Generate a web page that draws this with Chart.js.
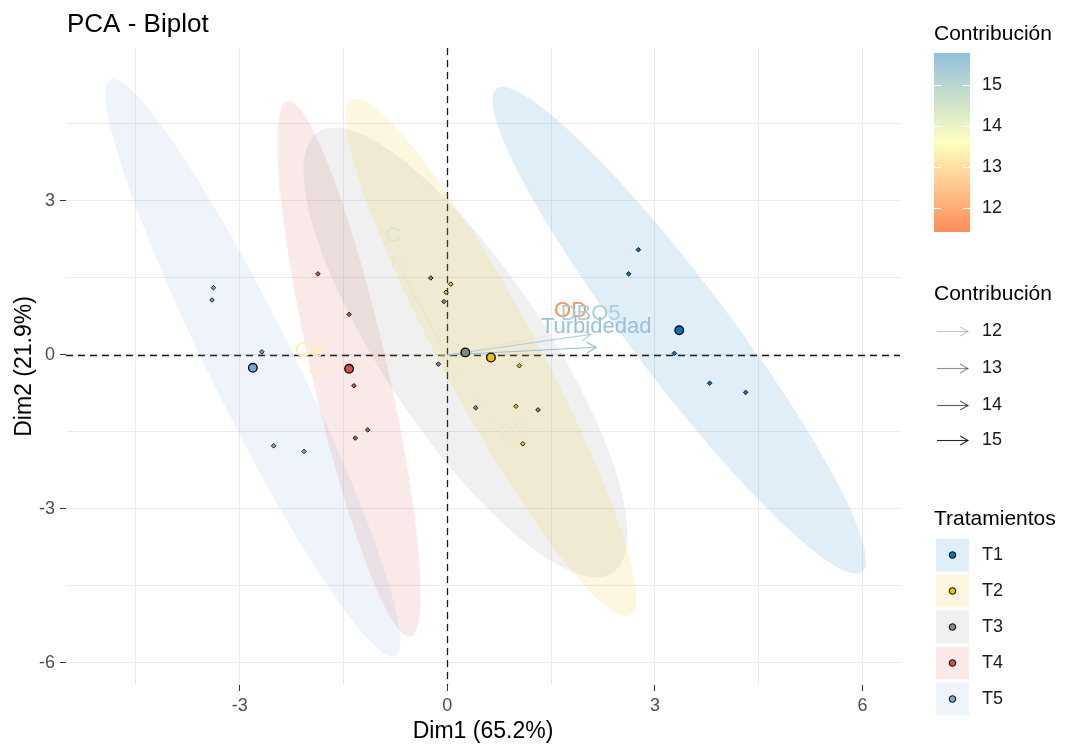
<!DOCTYPE html>
<html>
<head>
<meta charset="utf-8">
<title>PCA - Biplot</title>
<script src="https://cdn.jsdelivr.net/npm/chart.js@4.4.1/dist/chart.umd.min.js"></script>
<style>
  html, body { margin: 0; padding: 0; background: #fff; }
  #wrap { width: 1076px; height: 744px; }
</style>
</head>
<body>
<div id="wrap"><canvas id="biplot" width="1076" height="744"></canvas></div>
<script>
// treatments
const groups = ['T1', 'T2', 'T3', 'T4', 'T5'];
const groupColors = ['#0073C2', '#EFC000', '#868686', '#CD534C', '#7AA6DC'];

// individuals (Dim1, Dim2)
const indT1x = [2.76, 2.62, 3.28, 3.79, 4.31];
const indT1y = [2.05, 1.58, 0.03, -0.55, -0.73];
const indT2x = [0.05, -0.02, 1.04, 0.99, 1.09];
const indT2y = [1.38, 1.22, -0.21, -1.00, -1.73];
const indT3x = [-0.24, -0.05, -0.13, 0.41, 1.31];
const indT3y = [1.50, 1.04, -0.18, -1.03, -1.07];
const indT4x = [-1.87, -1.42, -1.35, -1.15, -1.33];
const indT4y = [1.58, 0.79, -0.60, -1.46, -1.62];
const indT5x = [-3.38, -3.40, -2.68, -2.51, -2.07];
const indT5y = [1.31, 1.07, 0.06, -1.77, -1.88];
const indX = [indT1x, indT2x, indT3x, indT4x, indT5x];
const indY = [indT1y, indT2y, indT3y, indT4y, indT5y];

// group means
const meanX = [3.35, 0.63, 0.26, -1.42, -2.81];
const meanY = [0.48, -0.05, 0.05, -0.27, -0.25];

// concentration ellipses: topmost point + half width of the horizontal chord through the mean
const ellTopX = [0.80, -1.32, -1.63, -2.29, -4.83];
const ellTopY = [5.22, 4.99, 4.43, 4.95, 5.38];
const ellHalfW = [0.88, 0.78, 1.38, 0.56, 0.68];

// variables
const varNames = ['C', 'Ce', 'OD', 'DBO5', 'Turbidedad', 'pH'];
const varX = [-0.78, -2.00, 1.78, 2.07, 2.15, 0.97];
const varY = [1.92, -0.32, 0.46, 0.40, 0.15, -1.84];
const varContrib = [14.4, 13.3, 11.41, 15.3, 15.78, 14.2];

// ticks
const xGrid = [-4.5, -3, -1.5, 0, 1.5, 3, 4.5, 6];
const yGrid = [-6, -4.5, -3, -1.5, 0, 1.5, 3, 4.5];
const contribTicks = [12, 13, 14, 15];

const fontFam = '"Liberation Sans", Arial, sans-serif';
const cMin = Math.min(...varContrib), cMax = Math.max(...varContrib);
const stops = [[cMin, [252, 141, 89]], [13.6, [255, 255, 191]], [cMax, [145, 191, 219]]];

function contribRGB(c) {
  for (let i = 0; i < stops.length - 1; i++) {
    const [v0, c0] = stops[i], [v1, c1] = stops[i + 1];
    if (c <= v1 || i === stops.length - 2) {
      const f = Math.max(0, Math.min(1, (c - v0) / (v1 - v0)));
      return c0.map((k, j) => Math.round(k + (c1[j] - k) * f));
    }
  }
}
function contribAlpha(c) { return 0.1 + 0.9 * (c - cMin) / (cMax - cMin); }
function rgba(rgb, a) { return 'rgba(' + rgb.join(',') + ',' + a + ')'; }
function hexA(hex, a) {
  const n = parseInt(hex.slice(1), 16);
  return rgba([(n >> 16) & 255, (n >> 8) & 255, n & 255], a);
}

function ellipsePoints(i) {
  const cx = meanX[i], cy = meanY[i];
  const ax = ellTopX[i] - cx, ay = ellTopY[i] - cy, bx = ellHalfW[i];
  const pts = [];
  for (let k = 0; k <= 120; k++) {
    const t = k / 120 * 2 * Math.PI;
    pts.push({x: cx + ax * Math.cos(t) + bx * Math.sin(t), y: cy + ay * Math.cos(t)});
  }
  return pts;
}

const datasets = [];
groups.forEach((g, i) => {
  datasets.push({
    type: 'line', label: g + ' ellipse', data: ellipsePoints(i), order: 10,
    fill: 'shape', backgroundColor: hexA(groupColors[i], 0.12),
    borderColor: 'transparent', borderWidth: 0, pointRadius: 0, tension: 0
  });
});
groups.forEach((g, i) => {
  datasets.push({
    label: g, data: indX[i].map((v, k) => ({x: v, y: indY[i][k]})), order: 8,
    pointStyle: 'rectRot', pointRadius: 2.3, backgroundColor: groupColors[i],
    borderColor: '#1a1a1a', borderWidth: 1
  });
});
varNames.forEach((n, i) => {
  datasets.push({
    type: 'line', label: n, data: [{x: 0, y: 0}, {x: varX[i], y: varY[i]}], order: 6,
    borderColor: rgba(contribRGB(varContrib[i]), contribAlpha(varContrib[i])),
    borderWidth: 1.1, pointRadius: 0, fill: false
  });
});
datasets.push({
  label: 'means', data: meanX.map((v, i) => ({x: v, y: meanY[i]})), order: 4,
  pointRadius: 4.3, backgroundColor: groupColors, borderColor: '#000', borderWidth: 1.3
});

function arrowHead(ctx, x1, y1, x2, y2, len) {
  const ang = Math.atan2(y2 - y1, x2 - x1);
  ctx.beginPath();
  ctx.moveTo(x2 - len * Math.cos(ang - Math.PI / 6), y2 - len * Math.sin(ang - Math.PI / 6));
  ctx.lineTo(x2, y2);
  ctx.lineTo(x2 - len * Math.cos(ang + Math.PI / 6), y2 - len * Math.sin(ang + Math.PI / 6));
  ctx.stroke();
}

const biplotDecor = {
  id: 'biplotDecor',
  beforeDatasetsDraw(chart) {
    const {ctx, chartArea: a, scales: {x, y}} = chart;
    const x0 = Math.round(x.getPixelForValue(0)) + 0.5;
    const y0 = Math.round(y.getPixelForValue(0)) + 0.5;
    ctx.save();
    ctx.strokeStyle = '#1a1a1a';
    ctx.lineWidth = 1.3;
    ctx.setLineDash([7, 5]);
    ctx.beginPath();
    ctx.moveTo(a.left, y0); ctx.lineTo(a.right, y0);
    ctx.moveTo(x0, a.top); ctx.lineTo(x0, a.bottom);
    ctx.stroke();
    ctx.restore();
  },
  afterDatasetsDraw(chart) {
    const {ctx, scales: {x, y}} = chart;
    const px0 = x.getPixelForValue(0), py0 = y.getPixelForValue(0);
    ctx.save();
    ctx.lineWidth = 1.1;
    ctx.font = '22px ' + fontFam;
    ctx.textAlign = 'center';
    ctx.textBaseline = 'alphabetic';
    varNames.forEach((n, i) => {
      const px = x.getPixelForValue(varX[i]), py = y.getPixelForValue(varY[i]);
      const rgb = contribRGB(varContrib[i]);
      ctx.strokeStyle = rgba(rgb, contribAlpha(varContrib[i]));
      arrowHead(ctx, px0, py0, px, py, 11);
      ctx.fillStyle = rgba(rgb, 0.95);
      ctx.fillText(n, px, py - 14);
    });
    ctx.restore();
  },
  afterDraw(chart) {
    const {ctx, chartArea: a} = chart;
    ctx.save();
    ctx.fillStyle = '#000';
    ctx.textBaseline = 'alphabetic';
    // title
    ctx.font = '26px ' + fontFam;
    ctx.textAlign = 'left';
    ctx.fillText('PCA - Biplot', 67, 32);
    // axis titles
    ctx.font = '23px ' + fontFam;
    ctx.textAlign = 'center';
    ctx.fillText('Dim1 (65.2%)', (a.left + a.right) / 2, 738);
    ctx.save();
    ctx.translate(31, (a.top + a.bottom) / 2);
    ctx.rotate(-Math.PI / 2);
    ctx.fillText('Dim2 (21.9%)', 0, 0);
    ctx.restore();

    // colour bar legend
    const lx = 934, bw = 36, bTop = 53, bBot = 232;
    ctx.textAlign = 'left';
    ctx.font = '21px ' + fontFam;
    ctx.fillStyle = '#000';
    ctx.fillText('Contribución', lx, 40);
    const grad = ctx.createLinearGradient(0, bBot, 0, bTop);
    stops.forEach(([v, c]) => grad.addColorStop((v - cMin) / (cMax - cMin), rgba(c, 1)));
    ctx.fillStyle = grad;
    ctx.fillRect(lx, bTop, bw, bBot - bTop);
    ctx.font = '18px ' + fontFam;
    ctx.textBaseline = 'middle';
    contribTicks.forEach(v => {
      const ty = Math.round(bBot - (v - cMin) / (cMax - cMin) * (bBot - bTop)) + 0.5;
      ctx.strokeStyle = '#fff';
      ctx.lineWidth = 1;
      ctx.beginPath();
      ctx.moveTo(lx, ty); ctx.lineTo(lx + 7, ty);
      ctx.moveTo(lx + bw - 7, ty); ctx.lineTo(lx + bw, ty);
      ctx.stroke();
      ctx.fillStyle = '#1a1a1a';
      ctx.fillText(String(v), 982, ty);
    });

    // arrow (alpha) legend
    ctx.textBaseline = 'alphabetic';
    ctx.font = '21px ' + fontFam;
    ctx.fillStyle = '#000';
    ctx.fillText('Contribución', lx, 300);
    ctx.font = '18px ' + fontFam;
    ctx.textBaseline = 'middle';
    const arrowRows = [331, 368, 405, 440];
    contribTicks.forEach((v, k) => {
      const ry = arrowRows[k] + 0.5;
      ctx.strokeStyle = 'rgba(0,0,0,' + contribAlpha(v).toFixed(2) + ')';
      ctx.lineWidth = 1.1;
      ctx.beginPath();
      ctx.moveTo(937, ry); ctx.lineTo(968, ry);
      ctx.stroke();
      arrowHead(ctx, 937, ry, 968, ry, 9);
      ctx.fillStyle = '#1a1a1a';
      ctx.fillText(String(v), 982, ry);
    });

    // treatments legend
    ctx.textBaseline = 'alphabetic';
    ctx.font = '21px ' + fontFam;
    ctx.fillStyle = '#000';
    ctx.fillText('Tratamientos', lx, 525);
    ctx.font = '18px ' + fontFam;
    ctx.textBaseline = 'middle';
    groups.forEach((g, i) => {
      const cy = 555 + i * 36;
      ctx.fillStyle = hexA(groupColors[i], 0.12);
      ctx.fillRect(936, cy - 16.5, 33, 33);
      ctx.beginPath();
      ctx.arc(952.5, cy, 3.3, 0, 2 * Math.PI);
      ctx.fillStyle = groupColors[i];
      ctx.fill();
      ctx.strokeStyle = '#000';
      ctx.lineWidth = 1;
      ctx.stroke();
      ctx.fillStyle = '#1a1a1a';
      ctx.fillText(g, 982, cy);
    });
    ctx.restore();
  }
};

const isMajor = v => Math.abs(v % 3) < 1e-9;

new Chart(document.getElementById('biplot'), {
  type: 'scatter',
  data: {datasets: datasets},
  plugins: [biplotDecor],
  options: {
    responsive: false,
    animation: false,
    devicePixelRatio: 1,
    layout: {padding: {top: 48, right: 176, left: 0, bottom: 0}},
    plugins: {legend: {display: false}, tooltip: {enabled: false}},
    scales: {
      x: {
        type: 'linear', min: -5.51, max: 6.54,
        afterFit: s => { s.height = 59; },
        afterBuildTicks: s => { s.ticks = xGrid.map(v => ({value: v})); },
        border: {display: false},
        grid: {
          color: '#ebebeb', lineWidth: 1, tickLength: 6,
          tickColor: c => (c.tick && isMajor(c.tick.value)) ? '#333' : 'rgba(0,0,0,0)'
        },
        ticks: {
          autoSkip: false, maxRotation: 0, padding: 4, color: '#4d4d4d',
          font: {size: 18, family: fontFam},
          callback: v => isMajor(v) ? String(v) : ''
        }
      },
      y: {
        type: 'linear', min: -6.43, max: 5.98,
        afterFit: s => { s.width = 66; },
        afterBuildTicks: s => { s.ticks = yGrid.map(v => ({value: v})); },
        border: {display: false},
        grid: {
          color: '#ebebeb', lineWidth: 1, tickLength: 6,
          tickColor: c => (c.tick && isMajor(c.tick.value)) ? '#333' : 'rgba(0,0,0,0)'
        },
        ticks: {
          autoSkip: false, padding: 5, color: '#4d4d4d',
          font: {size: 18, family: fontFam},
          callback: v => isMajor(v) ? String(v) : ''
        }
      }
    }
  }
});
</script>
</body>
</html>
